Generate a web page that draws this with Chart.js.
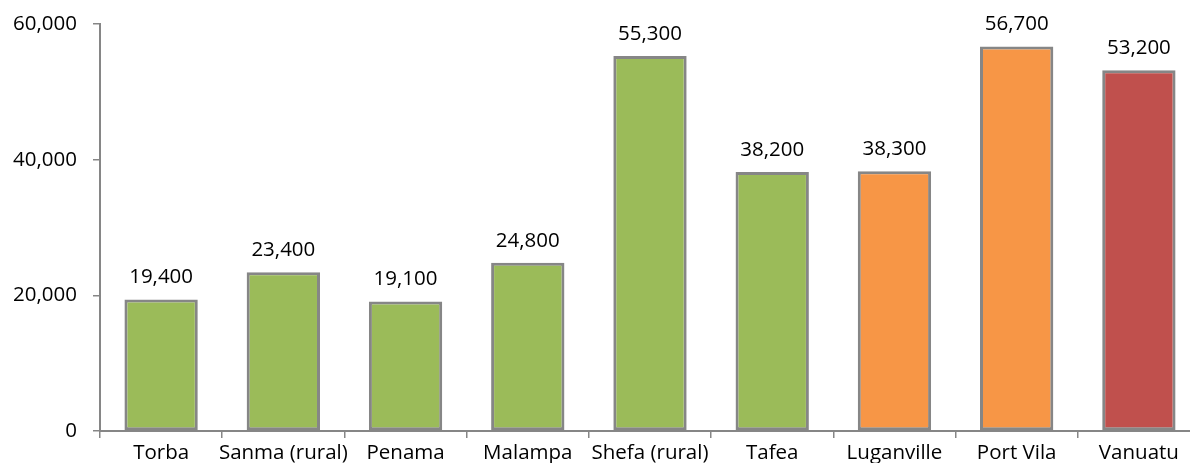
<!DOCTYPE html>
<html>
<head>
<meta charset="utf-8">
<script src="https://cdn.jsdelivr.net/npm/chart.js@4/dist/chart.umd.min.js"></script>
<style>
html,body{margin:0;padding:0;overflow:hidden;background:#fff;}
#wrap{width:1215px;height:463px;}
</style>
</head>
<body>
<div id="wrap"><canvas id="c" width="1215" height="463"></canvas></div>
<script>
const categories = ["Torba","Sanma (rural)","Penama","Malampa","Shefa (rural)","Tafea","Luganville","Port Vila","Vanuatu"];
const values = [19400, 23400, 19100, 24800, 55300, 38200, 38300, 56700, 53200];
const barColors = ["#9BBB59","#9BBB59","#9BBB59","#9BBB59","#9BBB59","#9BBB59","#F79646","#F79646","#C0504D"];
const yTicks = [0, 20000, 40000, 60000];

const FONT = "'Open Sans', sans-serif";
const FSIZE = 20.5;
const fmt = v => v.toLocaleString('en-US');

const labelPlugin = {
  id: 'valueLabels',
  afterDatasetsDraw(chart) {
    const ctx = chart.ctx;
    const meta = chart.getDatasetMeta(0);
    ctx.save();
    ctx.font = FSIZE + "px " + FONT;
    ctx.fillStyle = "#000";
    ctx.textAlign = "center";
    ctx.textBaseline = "alphabetic";
    meta.data.forEach((bar, i) => {
      ctx.fillText(fmt(values[i]), bar.x, bar.y - 16);
    });
    ctx.restore();
  }
};

new Chart(document.getElementById('c'), {
  type: 'bar',
  data: {
    labels: categories,
    datasets: [{
      data: values,
      backgroundColor: barColors,
      borderColor: "#868686",
      borderWidth: 3,
      borderSkipped: false,
      categoryPercentage: 1,
      barPercentage: 0.6
    }]
  },
  options: {
    responsive: false,
    animation: false,
    devicePixelRatio: 1,
    layout: { padding: { top: 24, right: 15, left: 0, bottom: 0 } },
    plugins: { legend: { display: false }, tooltip: { enabled: false } },
    scales: {
      x: {
        offset: true,
        grid: { offset: true, drawOnChartArea: false, drawTicks: true, tickLength: 7, color: "#868686", lineWidth: 1.5 },
        border: { display: true, color: "#868686", width: 2 },
        ticks: { color: "#000", font: { family: FONT, size: FSIZE }, padding: 3, maxRotation: 0, autoSkip: false },
        afterFit(scale) { scale.height = 32; scale.paddingLeft = 0; scale.paddingRight = 0; }
      },
      y: {
        min: 0, max: 60000,
        afterBuildTicks(scale) { scale.ticks = yTicks.map(v => ({ value: v })); },
        grid: { drawOnChartArea: false, drawTicks: true, tickLength: 7, color: "#868686", lineWidth: 1.5 },
        border: { display: true, color: "#868686", width: 2 },
        ticks: { color: "#000", font: { family: FONT, size: FSIZE }, padding: 16, callback: v => fmt(v) },
        afterFit(scale) { scale.width = 100; scale.paddingTop = 0; scale.paddingBottom = 0; }
      }
    }
  },
  plugins: [labelPlugin]
});
</script>
</body>
</html>
